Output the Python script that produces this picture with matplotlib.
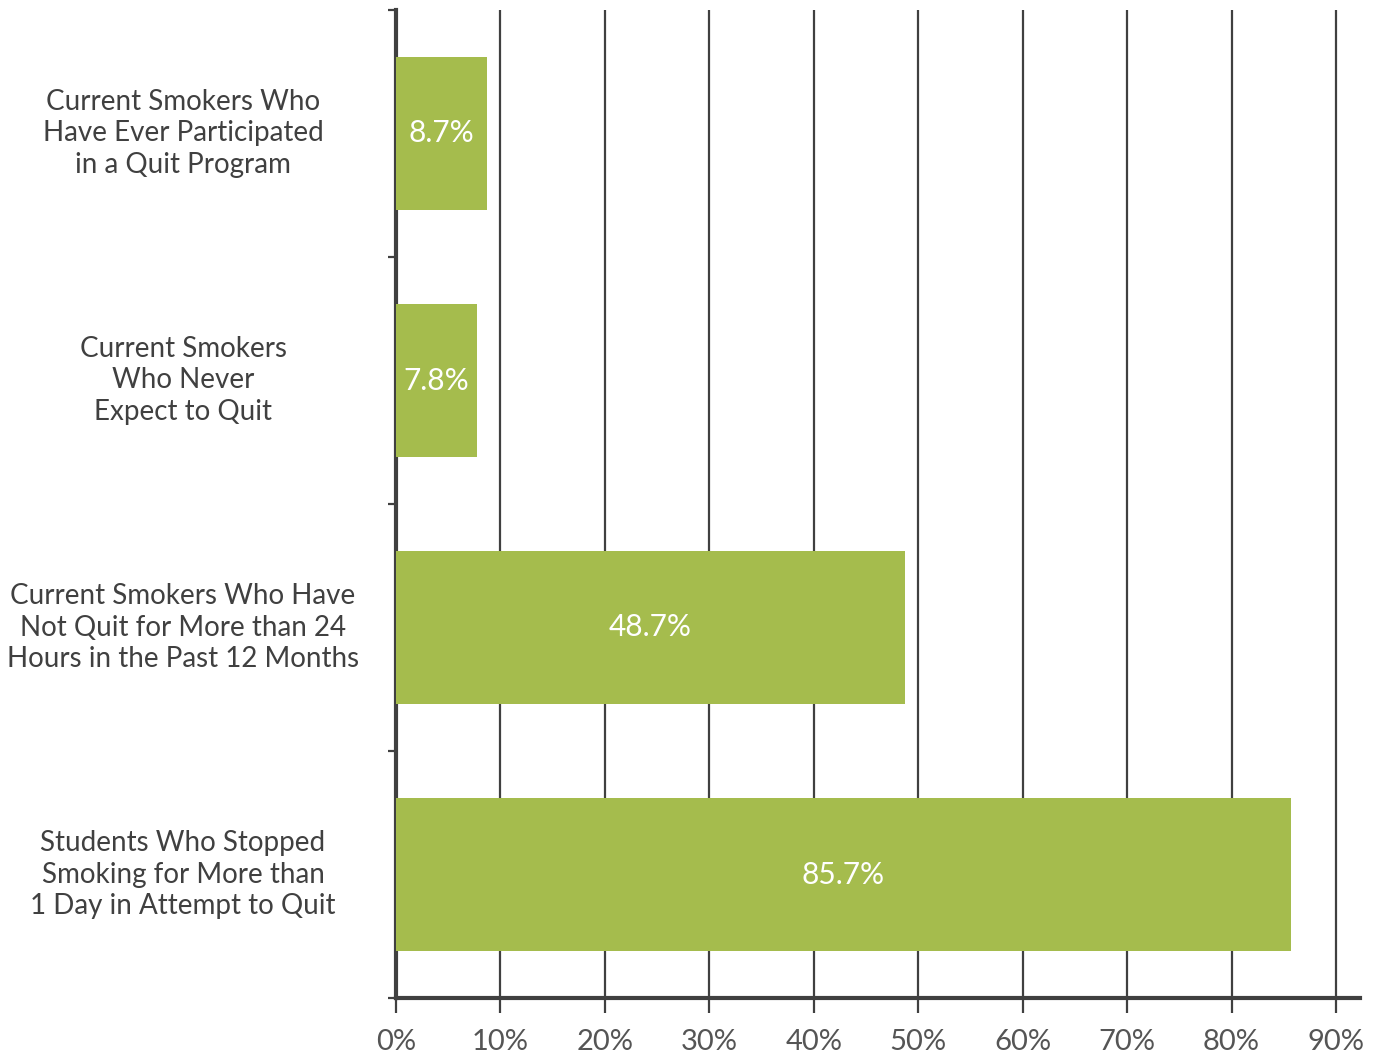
import matplotlib.pyplot as plt
import matplotlib.transforms as mtransforms
from matplotlib.ticker import MultipleLocator, FuncFormatter

# quit-attempt figures, top to bottom
categories = [
    "Current Smokers Who\nHave Ever Participated\nin a Quit Program",
    "Current Smokers\nWho Never\nExpect to Quit",
    "Current Smokers Who Have\nNot Quit for More than 24\nHours in the Past 12 Months",
    "Students Who Stopped\nSmoking for More than\n1 Day in Attempt to Quit",
]
values = [8.7, 7.8, 48.7, 85.7]

BAR = "#a5bc4d"
DARK = "#404040"

plt.rcParams['font.family'] = ['Lato', 'DejaVu Sans']

fig = plt.figure(figsize=(13.81, 10.55), dpi=100)
ax = fig.add_axes([396 / 1381, 1 - 998 / 1055, (1360 - 396) / 1381, (998 - 10) / 1055])

pos = list(range(len(values)))
ax.barh(pos, values, height=0.62, color=BAR, zorder=3)

ax.set_xlim(0, 92.3)
ax.set_ylim(len(values) - 0.5, -0.5)

# vertical grid at every 10%
ax.xaxis.set_major_locator(MultipleLocator(10))
ax.xaxis.set_major_formatter(FuncFormatter(lambda v, _: f"{v:.0f}%"))
ax.grid(axis='x', color=DARK, linewidth=1.6, zorder=1)
ax.set_axisbelow(True)

ax.tick_params(axis='x', length=11, width=1.6, color=DARK, labelsize=21,
               labelcolor="#555555", pad=11)

# category boundary ticks on the left spine
ax.set_yticks([p - 0.5 for p in pos] + [len(values) - 0.5])
ax.tick_params(axis='y', length=6, width=1.6, color=DARK, labelleft=False)

for side in ['top', 'right']:
    ax.spines[side].set_visible(False)
for side in ['left', 'bottom']:
    ax.spines[side].set_color(DARK)
    ax.spines[side].set_linewidth(3)

# category labels centred in the left margin
trans = mtransforms.blended_transform_factory(fig.transFigure, ax.transData)
for p, lab in zip(pos, categories):
    ax.text(183 / 1381, p, lab, transform=trans, ha='center', va='center',
            fontsize=20, color=DARK, linespacing=1.27)

# value labels inside each bar
for p, v in zip(pos, values):
    ax.text(v / 2, p, f"{v}%", ha='center', va='center', fontsize=21.5,
            color='white', zorder=4)

fig.savefig("out.png", dpi=100)
